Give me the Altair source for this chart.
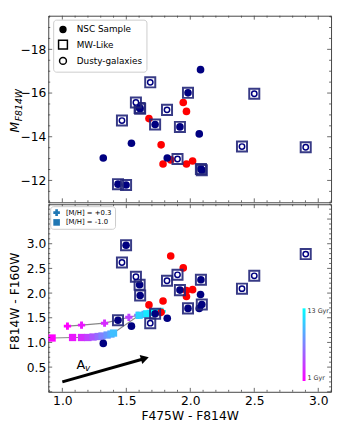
import altair as alt
import pandas as pd

# ---------------- data ----------------
# NSC sample (navy, not MW-like)
nsc_x = [1.32, 1.54, 1.82, 2.08, 2.07]
nsc_mag = [-13.03, -13.70, -13.03, -17.07, -14.13]
nsc_col = [0.98, 1.33, 1.49, 1.97, 1.69]

# NSC sample that are MW-like (navy dot inside square)
mwn_x = [1.435, 1.498, 1.604, 1.608, 1.725, 1.919, 1.982, 2.083, 2.090]
mwn_mag = [-11.83, -11.79, -15.32, -15.28, -14.56, -14.45, -16.01, -12.52, -12.47]
mwn_col = [1.45, 2.97, 2.17, 1.95, 1.58, 2.06, 1.69, 2.27, 1.77]

# Dusty galaxies that are MW-like (open circle inside square)
dst_x = [1.466, 1.575, 1.687, 1.818, 1.900, 2.404, 2.500, 2.902]
dst_mag = [-14.74, -15.57, -16.49, -15.23, -12.98, -13.55, -15.97, -13.52]
dst_col = [2.62, 2.33, 1.39, 2.25, 2.37, 2.09, 2.35, 2.79]

# red points
red_x = [1.677, 1.772, 1.787, 1.847, 1.945, 1.970, 1.970, 2.018]
red_mag = [-14.83, -13.63, -12.75, -12.94, -15.57, -15.16, -12.75, -12.89]
red_col = [1.76, 1.61, 1.84, 2.75, 2.51, 2.05, 1.93, 2.07]

# SSP tracks
mh_names = ["[M/H] = +0.3", "[M/H] = -1.0"]
trk_hi_age = [1, 2, 3, 4, 6, 8, 10, 11, 12, 13]
trk_hi_x = [1.04, 1.15, 1.33, 1.52, 1.59, 1.63, 1.67, 1.71, 1.75, 1.78]
trk_hi_y = [1.33, 1.35, 1.39, 1.51, 1.55, 1.57, 1.59, 1.61, 1.62, 1.63]
trk_lo_age = [1, 2, 3, 4, 5, 6, 7, 8, 9, 10, 11, 12, 13]
trk_lo_x = [0.92, 1.08, 1.15, 1.20, 1.24, 1.28, 1.31, 1.35, 1.38, 1.40, 1.60, 1.66, 1.72]
trk_lo_y = [1.09, 1.10, 1.10, 1.10, 1.11, 1.12, 1.13, 1.15, 1.17, 1.19, 1.55, 1.58, 1.61]
age_range = [1, 13]

# extinction arrow
arrow_x = [1.0, 1.645]
arrow_y = [0.2, 0.675]
av_label_x = [1.11]
av_label_y = [0.468]
av_sub_x = [1.178]
av_sub_y = [0.42]

# legend entries (top panel)
leg_names = ["NSC Sample", "MW-Like", "Dusty-galaxies"]

# axis ticks
x_ticks = [round(0.9 + 0.1 * i, 2) for i in range(23)]
top_y_ticks = [round(-19.5 + 0.5 * i, 2) for i in range(18)]
bot_y_ticks = [round(0.1 * i, 2) for i in range(39)]
x_labels = [1.0, 1.5, 2.0, 2.5, 3.0]
top_y_labels = [-18, -16, -14, -12]
bot_y_labels = [0.5, 1.0, 1.5, 2.0, 2.5, 3.0]

# ---------------- styling ----------------
FONT = "DejaVu Sans"
NAVY = "#000080"
SQ = "#23267a"
FRAME = "#444444"
W, H1, H2 = 288, 190, 191

xs = alt.Scale(domain=[0.89, 3.10], nice=False, zero=False)
ys1 = alt.Scale(domain=[-11.0, -19.54], nice=False, zero=False)
ys2 = alt.Scale(domain=[0.0, 3.8], nice=False, zero=False)

yaxis1 = alt.Axis(values=top_y_labels, format="d", title=None, labelFontSize=12.5,
                  labelPadding=2.5, labelFont=FONT)
yaxis2 = alt.Axis(values=bot_y_labels, format=".1f", title=None, labelFontSize=12.5,
                  labelPadding=2.5, labelFont=FONT)
xaxis2 = alt.Axis(values=x_labels, format=".1f", title="F475W - F814W", titleFontSize=12.5,
                  titleFontWeight="normal", labelFontSize=12.5, labelPadding=3,
                  titlePadding=3, labelFlush=False, labelFont=FONT, titleFont=FONT)

nsc_df = pd.DataFrame({"x": nsc_x, "mag": nsc_mag, "col": nsc_col})
mwn_df = pd.DataFrame({"x": mwn_x, "mag": mwn_mag, "col": mwn_col})
dst_df = pd.DataFrame({"x": dst_x, "mag": dst_mag, "col": dst_col})
red_df = pd.DataFrame({"x": red_x, "mag": red_mag, "col": red_col})
navy_df = pd.concat([nsc_df, mwn_df], ignore_index=True)
sq_df = pd.concat([mwn_df, dst_df], ignore_index=True)


def is_mult(v, step):
    q = v / step
    return abs(q - round(q)) < 1e-6


def inner_ticks(ysc, yax, xax, yvals, ystep, H):
    layers = []
    for major, ln in [(True, 4), (False, 2)]:
        dx = pd.DataFrame({"v": [v for v in x_ticks if is_mult(v, 0.5) == major]})
        dy = pd.DataFrame({"v": [v for v in yvals if is_mult(v, ystep) == major]})
        for a, b in [(0, ln), (H, H - ln)]:
            layers.append(
                alt.Chart(dx).mark_rule(color=FRAME, strokeWidth=0.8).encode(
                    x=alt.X("v:Q", scale=xs, axis=xax), y=alt.value(a), y2=alt.value(b)))
        for a, b in [(0, ln), (W, W - ln)]:
            layers.append(
                alt.Chart(dy).mark_rule(color=FRAME, strokeWidth=0.8).encode(
                    y=alt.Y("v:Q", scale=ysc, axis=yax), x=alt.value(a), x2=alt.value(b)))
    return layers


def scatter_layers(ycol, ysc, yax, xax):
    X = alt.X("x:Q", scale=xs, axis=xax)
    Y = alt.Y(f"{ycol}:Q", scale=ysc, axis=yax)
    red = alt.Chart(red_df).mark_circle(size=60, color="#ff0000", opacity=1).encode(x=X, y=Y)
    navy = alt.Chart(navy_df).mark_circle(size=60, color=NAVY, opacity=1).encode(x=X, y=Y)
    sq = alt.Chart(sq_df).mark_point(shape="square", size=105, filled=False, color=SQ,
                                     strokeWidth=2, opacity=0.9).encode(x=X, y=Y)
    op = alt.Chart(dst_df).mark_point(shape="circle", size=30, filled=True, fill="white",
                                      stroke=NAVY, strokeWidth=1.5, opacity=1).encode(x=X, y=Y)
    return [red, navy, sq, op]


def vtext(txt, x, y, size, italic=False, align="left"):
    kw = dict(angle=270, align=align, baseline="alphabetic", font=FONT,
              fontSize=size, color="black")
    if italic:
        kw["fontStyle"] = "italic"
    return alt.Chart(pd.DataFrame({"t": [txt]})).mark_text(**kw).encode(
        text="t:N", x=alt.value(x), y=alt.value(y))


# ---------------- top panel ----------------
circ_s = "M -0.6 0 A 0.6 0.6 0 1 0 0.6 0 A 0.6 0.6 0 1 0 -0.6 0 Z"
sq_b = "M -0.9 -0.9 L 0.9 -0.9 L 0.9 0.9 L -0.9 0.9 Z"
circ_o = "M -0.7 0 A 0.7 0.7 0 1 0 0.7 0 A 0.7 0.7 0 1 0 -0.7 0 Z"
top_legend = alt.Legend(title=None, orient="none", legendX=5, legendY=4,
                        fillColor="white", strokeColor="#cccccc", cornerRadius=3,
                        padding=4, labelFontSize=9, labelFont=FONT, labelColor="black",
                        symbolSize=100, symbolStrokeWidth=1.5, symbolStrokeColor="black",
                        rowPadding=1.5, labelOffset=8)
leg_layer = alt.Chart(pd.DataFrame({"leg": leg_names})).transform_filter("false").mark_point(
    filled=True, opacity=1, size=100, strokeWidth=1.5).encode(
    shape=alt.Shape("leg:N", scale=alt.Scale(domain=leg_names, range=[circ_s, sq_b, circ_o]),
                    legend=top_legend),
    fill=alt.Fill("leg:N", scale=alt.Scale(domain=leg_names, range=["black", "white", "white"]),
                  legend=top_legend),
    stroke=alt.Stroke("leg:N", scale=alt.Scale(domain=leg_names,
                                               range=["black", "black", "black"]),
                      legend=top_legend))

top_layers = (scatter_layers("mag", ys1, yaxis1, None)
              + inner_ticks(ys1, yaxis1, None, top_y_ticks, 2, H1)
              + [vtext("M", -30, 119, 12.5, italic=True),
                 vtext("F814W", -27, 107.5, 9.5, italic=True),
                 leg_layer])
top = alt.layer(*top_layers).properties(width=W, height=H1)

# ---------------- bottom panel ----------------
trk_df = pd.DataFrame({
    "x": trk_hi_x + trk_lo_x,
    "col": trk_hi_y + trk_lo_y,
    "age": trk_hi_age + trk_lo_age,
    "mh": [mh_names[0]] * len(trk_hi_x) + [mh_names[1]] * len(trk_lo_x),
})
XB = alt.X("x:Q", scale=xs, axis=xaxis2)
YB = alt.Y("col:Q", scale=ys2, axis=yaxis2)
trk_lines = alt.Chart(trk_df).mark_line(color="#888888", strokeWidth=1.2).encode(
    x=XB, y=YB, detail="mh:N", order="age:Q")
mh_legend = alt.Legend(title=None, orient="none", legendX=2, legendY=2, fillColor="white",
                       strokeColor="#cccccc", cornerRadius=3, padding=3, labelFontSize=7,
                       labelFont=FONT, labelColor="black", symbolSize=45,
                       symbolFillColor="#1f77b4", symbolStrokeWidth=0, rowPadding=2,
                       labelOffset=6)
age_legend = alt.Legend(title=None, orient="none", legendX=259, legendY=106,
                        direction="vertical", gradientLength=74, gradientThickness=3,
                        gradientStrokeWidth=0, values=age_range, padding=0,
                        labelExpr="datum.value == 13 ? '13 Gyr' : '1 Gyr'",
                        labelFontSize=6.5, labelFont=FONT, labelColor="#333333",
                        labelOffset=2)
trk_pts = alt.Chart(trk_df).mark_point(filled=True, opacity=1, size=55).encode(
    x=XB, y=YB,
    shape=alt.Shape("mh:N", scale=alt.Scale(domain=mh_names, range=["cross", "square"]),
                    legend=mh_legend),
    color=alt.Color("age:Q", scale=alt.Scale(domain=age_range, range=["#ff00ff", "#00ffff"],
                                             interpolate="rgb"), legend=age_legend))

arr_df = pd.DataFrame({"x": arrow_x, "col": arrow_y})
arr_line = alt.Chart(arr_df).mark_line(color="black", strokeWidth=3).encode(x=XB, y=YB)
arr_head = alt.Chart(arr_df.tail(1)).mark_point(shape="triangle-right", size=90, filled=True,
                                                color="black", opacity=1, angle=344).encode(
    x=XB, y=YB)
av_a = alt.Chart(pd.DataFrame({"x": av_label_x, "col": av_label_y, "t": ["A"]})).mark_text(
    align="left", baseline="alphabetic", font=FONT, fontSize=13, color="black").encode(
    x=XB, y=YB, text="t:N")
av_v = alt.Chart(pd.DataFrame({"x": av_sub_x, "col": av_sub_y, "t": ["v"]})).mark_text(
    align="left", baseline="alphabetic", font=FONT, fontSize=9, fontStyle="italic",
    color="black").encode(x=XB, y=YB, text="t:N")

bot_layers = ([trk_lines, trk_pts]
              + scatter_layers("col", ys2, yaxis2, xaxis2)
              + [arr_line, arr_head, av_a, av_v]
              + inner_ticks(ys2, yaxis2, xaxis2, bot_y_ticks, 0.5, H2)
              + [vtext("F814W - F160W", -30, 99, 12.5, align="center")])
bottom = alt.layer(*bot_layers).properties(width=W, height=H2)

chart = alt.vconcat(top, bottom, spacing=0).resolve_scale(
    shape="independent", color="independent", fill="independent", stroke="independent"
).properties(
    padding={"left": 0, "top": 3, "right": 2, "bottom": 0}
).configure_view(stroke=FRAME, strokeWidth=1).configure_axis(
    grid=False, ticks=False, domain=False, labelFont=FONT, titleFont=FONT,
    labelColor="black", titleColor="black")

chart.save("out.html", embed_options={"renderer": "svg", "actions": False})
